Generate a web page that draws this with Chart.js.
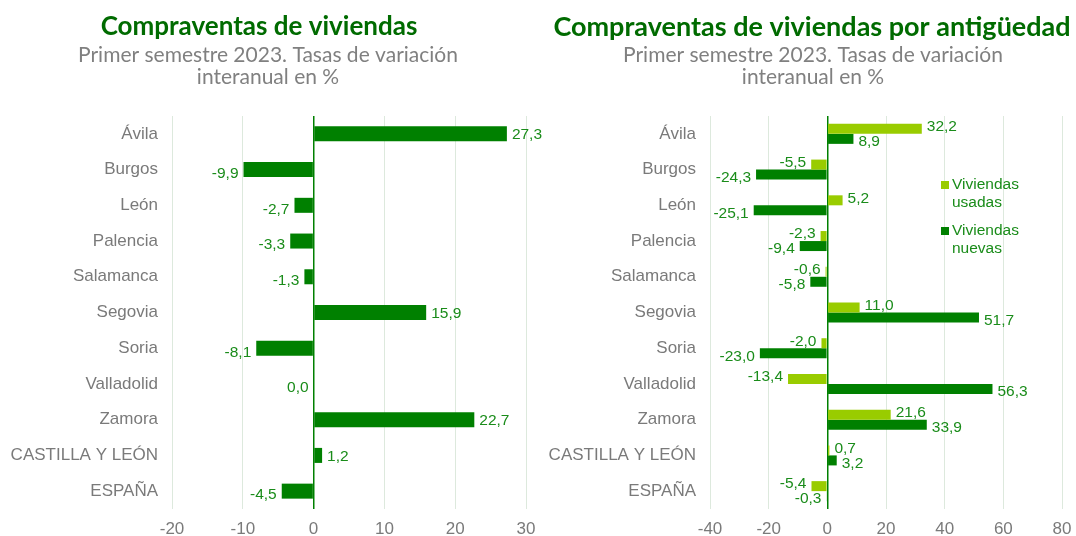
<!DOCTYPE html>
<html>
<head>
<meta charset="utf-8">
<script src="https://cdn.jsdelivr.net/npm/chart.js@4"></script>
<style>
  html, body { margin: 0; padding: 0; background: #fff; }
  #wrap { position: relative; width: 1076px; height: 536px; overflow: hidden; }
  #left { position: absolute; left: 0; top: 0; }
  #right { position: absolute; left: 540px; top: 0; }
</style>
</head>
<body>
<div id="wrap">
  <canvas id="left" width="560" height="536"></canvas>
  <canvas id="right" width="536" height="536"></canvas>
</div>
<script>
// Provinces plus regional and national totals
const categories = ['Ávila', 'Burgos', 'León', 'Palencia', 'Salamanca', 'Segovia', 'Soria', 'Valladolid', 'Zamora', 'CASTILLA Y LEÓN', 'ESPAÑA'];

// Total dwelling sales, year-on-year change (%)
const totalChange = [27.3, -9.9, -2.7, -3.3, -1.3, 15.9, -8.1, 0.0, 22.7, 1.2, -4.5];

// By age of dwelling, year-on-year change (%)
const usedChange = [32.2, -5.5, 5.2, -2.3, -0.6, 11.0, -2.0, -13.4, 21.6, 0.7, -5.4];
const newChange = [8.9, -24.3, -25.1, -9.4, -5.8, 51.7, -23.0, 56.3, 33.9, 3.2, -0.3];

const seriesNames = ['Viviendas usadas', 'Viviendas nuevas'];
const leftTicks = { min: -20, max: 30, step: 10 };
const rightTicks = { min: -40, max: 80, step: 20 };

const DARK = '#008000';
const LIGHT = '#99cc00';
const LABEL = '#1a8c1a';
const GRID = '#dde9dd';
const GREY_TXT = '#7a7a7a';
const TITLE_GREEN = '#006b00';
const SANS = '"Liberation Sans", Arial, sans-serif';
const TITLE_FONT = 'Lato, "Open Sans", sans-serif';

const fmt = v => v.toFixed(1).replace('.', ',');

// Title and subtitle block drawn centred at given x positions
function titlePlugin(title, cx, size, subCx) {
  return {
    id: 'titles',
    afterDraw(chart) {
      const ctx = chart.ctx;
      ctx.save();
      ctx.textAlign = 'center';
      ctx.textBaseline = 'middle';
      ctx.fillStyle = TITLE_GREEN;
      ctx.font = 'bold ' + size + 'px ' + TITLE_FONT;
      ctx.fillText(title, cx, 27);
      ctx.fillStyle = '#808080';
      ctx.font = '21px ' + TITLE_FONT;
      ctx.fillText('Primer semestre 2023. Tasas de variación', subCx, 55);
      ctx.fillText('interanual en %', subCx, 77);
      ctx.restore();
    }
  };
}

// Value labels at the end of each bar
function valueLabels(offsets) {
  return {
    id: 'valueLabels',
    afterDatasetsDraw(chart) {
      const ctx = chart.ctx;
      ctx.save();
      ctx.font = '15.5px ' + SANS;
      ctx.fillStyle = LABEL;
      ctx.textBaseline = 'middle';
      chart.data.datasets.forEach((ds, di) => {
        const meta = chart.getDatasetMeta(di);
        meta.data.forEach((el, i) => {
          const v = ds.data[i];
          const off = offsets(di, v);
          if (v > 0) {
            ctx.textAlign = 'left';
            ctx.fillText(fmt(v), el.x + 5, el.y + off);
          } else {
            ctx.textAlign = 'right';
            ctx.fillText(fmt(v), Math.min(el.x, el.base) - 5, el.y + off);
          }
        });
      });
      ctx.restore();
    }
  };
}

// Two-line legend placed inside the plot
const legendPlugin = {
  id: 'innerLegend',
  afterDraw(chart) {
    const ctx = chart.ctx;
    ctx.save();
    ctx.font = '15.5px ' + SANS;
    ctx.textBaseline = 'middle';
    ctx.textAlign = 'left';
    const x = 401;
    const rows = [185, 231];
    chart.data.datasets.forEach((ds, di) => {
      const y = rows[di];
      ctx.fillStyle = ds.backgroundColor;
      ctx.fillRect(x, y - 4, 8, 8);
      ctx.fillStyle = LABEL;
      const words = ds.label.split(' ');
      ctx.fillText(words[0], x + 11, y);
      ctx.fillText(words[1], x + 11, y + 18);
    });
    ctx.restore();
  }
};

function baseOptions(ticks, leftWidth, rightPad) {
  return {
    indexAxis: 'y',
    responsive: false,
    animation: false,
    layout: { padding: { top: 116, bottom: 0, left: 0, right: rightPad } },
    plugins: { legend: { display: false }, title: { display: false }, tooltip: { enabled: false } },
    scales: {
      x: {
        min: ticks.min,
        max: ticks.max,
        border: { display: false },
        grid: {
          drawTicks: false,
          color: c => (c.tick && c.tick.value === 0) ? DARK : GRID,
          lineWidth: c => (c.tick && c.tick.value === 0) ? 1.5 : 1
        },
        ticks: {
          stepSize: ticks.step,
          padding: 10,
          color: GREY_TXT,
          font: { family: SANS, size: 17 }
        },
        afterFit(scale) {
          scale.height = 27;
          scale.paddingLeft = 0;
          scale.paddingRight = 0;
        }
      },
      y: {
        border: { display: false },
        grid: { display: false, drawTicks: false },
        ticks: {
          padding: 14,
          color: GREY_TXT,
          font: { family: SANS, size: 17 }
        },
        afterFit(scale) { scale.width = leftWidth; }
      }
    }
  };
}

// Left panel: canvas is a little wider than its slot so end labels are not clipped
new Chart(document.getElementById('left'), {
  type: 'bar',
  data: {
    labels: categories,
    datasets: [{
      label: 'Compraventas',
      data: totalChange,
      backgroundColor: DARK,
      barPercentage: 0.42,
      categoryPercentage: 1
    }]
  },
  options: baseOptions(leftTicks, 172, 34),
  plugins: [titlePlugin('Compraventas de viviendas', 259, 26, 268), valueLabels((di, v) => v > 0 ? 1 : 4)]
});

new Chart(document.getElementById('right'), {
  type: 'bar',
  data: {
    labels: categories,
    datasets: [
      { label: seriesNames[0], data: usedChange, backgroundColor: LIGHT, barPercentage: 1, categoryPercentage: 0.56 },
      { label: seriesNames[1], data: newChange, backgroundColor: DARK, barPercentage: 1, categoryPercentage: 0.56 }
    ]
  },
  options: baseOptions(rightTicks, 170, 14),
  plugins: [titlePlugin('Compraventas de viviendas por antigüedad', 272, 27, 273), valueLabels((di, v) => di === 0 ? -2 : 3), legendPlugin]
});
</script>
</body>
</html>
